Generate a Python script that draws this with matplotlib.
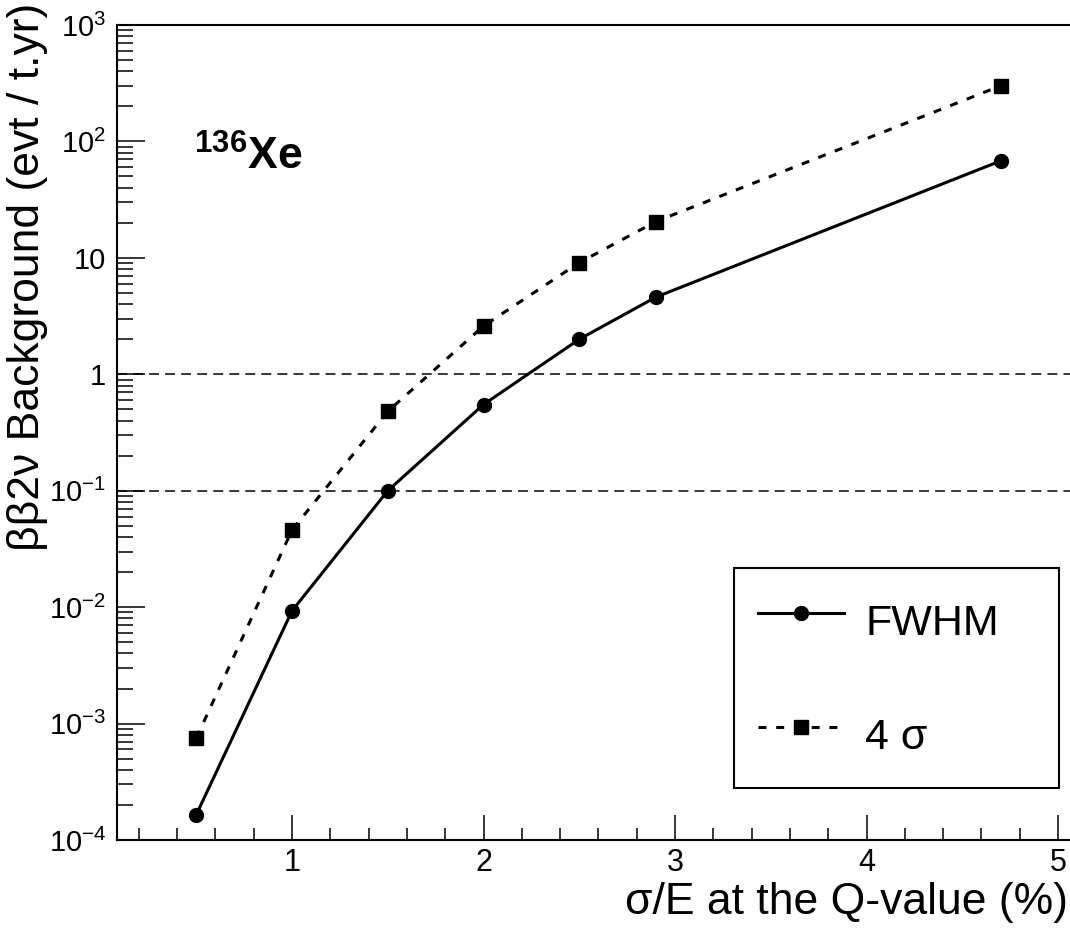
import numpy as np
import matplotlib
matplotlib.use("Agg")
import matplotlib.pyplot as plt

plt.rcParams['font.family'] = ['Liberation Sans', 'DejaVu Sans']
plt.rcParams['mathtext.fontset'] = 'custom'
plt.rcParams['mathtext.rm'] = 'Liberation Sans'
plt.rcParams['mathtext.it'] = 'Liberation Sans:italic'
plt.rcParams['mathtext.bf'] = 'Liberation Sans:bold'

# energy resolution sigma/E (%) and 2nu-bb background in the ROI (evt / t.yr)
sigma_e = [0.5, 1.0, 1.5, 2.0, 2.5, 2.9, 4.7]
bkg_fwhm = [1.65e-4, 9.3e-3, 0.10, 0.55, 2.0, 4.6, 68.0]
bkg_4sigma = [7.5e-4, 0.046, 0.48, 2.6, 9.1, 20.5, 300.0]

ref_levels = [1.0, 0.1]

y_ticks = [1e-4, 1e-3, 1e-2, 1e-1, 1, 10, 1e2, 1e3]
y_ticklabels = ['10$^{-4}$', '10$^{-3}$', '10$^{-2}$', '10$^{-1}$', '1', '10',
                '10$^{2}$', '10$^{3}$']
x_ticks = [1, 2, 3, 4, 5]
x_ticklabels = ['1', '2', '3', '4', '5']

W, H = 1070, 932
fig = plt.figure(figsize=(W / 100, H / 100), dpi=100)

# frame in pixels: left 117, bottom 840, top 25, right edge runs past the canvas
xlim = (0.086, 5.12)
px_per_unit = 191.5
ax_w = (xlim[1] - xlim[0]) * px_per_unit
ax = fig.add_axes([117 / W, 1 - 840 / H, ax_w / W, 815 / H])

ax.set_yscale('log')
ax.set_xlim(*xlim)
ax.set_ylim(1e-4, 1e3)

for lvl in ref_levels:
    ax.axhline(lvl, color='black', lw=1.1, ls=(0, (6.5, 4)), zorder=1)

ax.plot(sigma_e, bkg_fwhm, color='black', lw=2.2, marker='o', ms=10,
        label='FWHM', zorder=3)
ax.plot(sigma_e, bkg_4sigma, color='black', lw=2.2, ls=(0, (2.6, 3.2)),
        marker='s', ms=10, label='4 σ', zorder=3)

ax.set_yticks(y_ticks)
ax.set_yticklabels(y_ticklabels)
ax.set_xticks(x_ticks)
ax.set_xticklabels(x_ticklabels)
ax.xaxis.set_minor_locator(matplotlib.ticker.FixedLocator(
    [v for v in np.arange(0.2, 5.1, 0.2) if abs(v - round(v)) > 1e-6]))
ax.yaxis.set_minor_locator(matplotlib.ticker.LogLocator(base=10, subs=np.arange(2, 10)))
ax.yaxis.set_minor_formatter(matplotlib.ticker.NullFormatter())

ax.tick_params(axis='y', which='major', direction='in', length=20, width=1.1,
               labelsize=21, pad=8)
ax.tick_params(axis='y', which='minor', direction='in', length=11.5, width=1.1)
ax.tick_params(axis='x', which='major', direction='in', length=18, width=1.1,
               labelsize=22, pad=6)
ax.tick_params(axis='x', which='minor', direction='in', length=8.6, width=1.1)

for sp in ax.spines.values():
    sp.set_linewidth(1.5)

ax.set_xlabel('σ/E at the Q-value (%)', fontsize=32, loc='right')
ax.xaxis.set_label_coords((1068 - 117) / ax_w, (840 - 882) / 815)
# ROOT-style y title, flush with the top of the canvas
fig.text(28 / W, 1 - 3 / H, 'ββ2ν Background (evt / t.yr)', rotation=90,
         ha='center', va='top', fontsize=32)

ax.text(0.080, 0.823, r'$\mathbf{^{136}Xe}$', transform=ax.transAxes,
        fontsize=32, va='baseline', ha='left')

leg_x0 = (734 - 117) / ax_w
leg_w = (1059 - 734) / ax_w
leg = ax.legend(loc='upper left', bbox_to_anchor=(leg_x0, (840 - 568) / 815, leg_w, 0.0),
                mode='expand', fontsize=31, frameon=True, fancybox=False,
                edgecolor='black', framealpha=1, borderpad=0.55, labelspacing=1.3,
                handlelength=2.0, handleheight=1.7, handletextpad=0.5, numpoints=1,
                borderaxespad=0)
leg.get_frame().set_linewidth(1.5)

fig.savefig('out.png', dpi=100)
